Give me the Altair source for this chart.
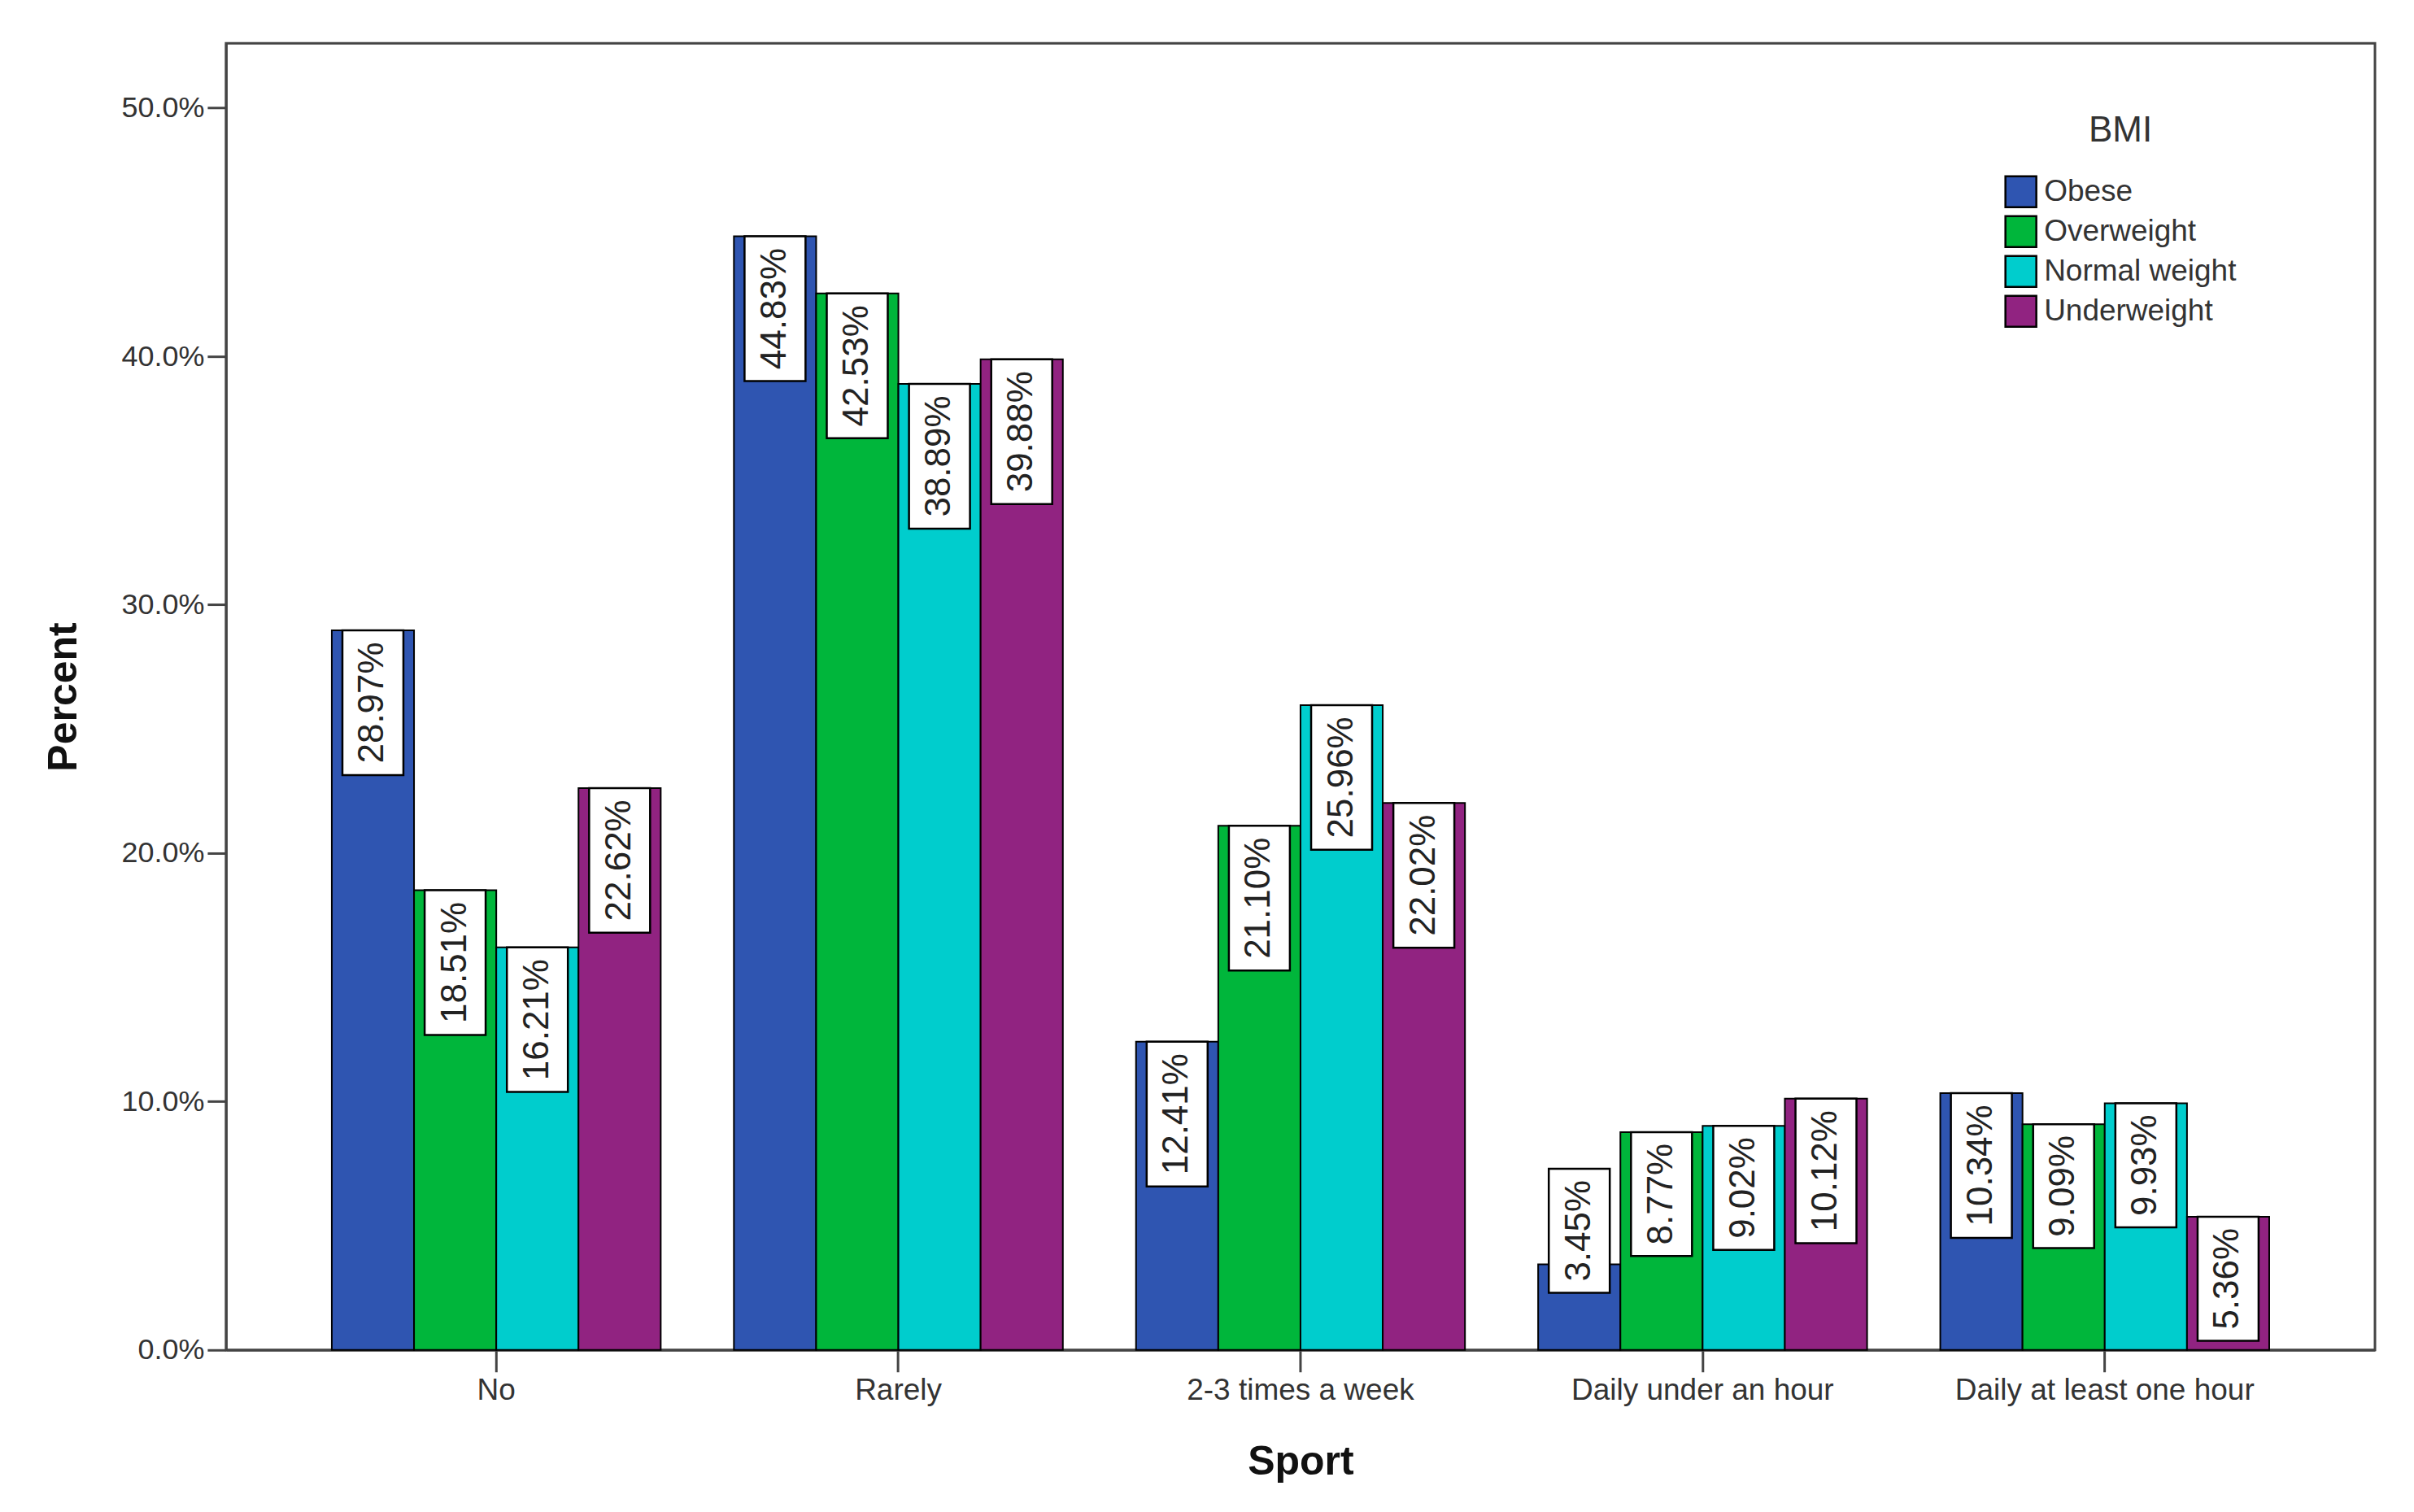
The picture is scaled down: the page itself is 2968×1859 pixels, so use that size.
import altair as alt
import pandas as pd

categories = ["No", "Rarely", "2-3 times a week", "Daily under an hour", "Daily at least one hour"]
groups = ["Obese", "Overweight", "Normal weight", "Underweight"]
obese = [28.97, 44.83, 12.41, 3.45, 10.34]
overweight = [18.51, 42.53, 21.10, 8.77, 9.09]
normal = [16.21, 38.89, 25.96, 9.02, 9.93]
underweight = [22.62, 39.88, 22.02, 10.12, 5.36]
colors = ["#2F55B1", "#00B63B", "#00CDCD", "#912381"]

W, H = 2643, 1607
YMAX = 52.6
px_per_unit = H / YMAX
FONT = "Liberation Sans"

rows = []
for g, vals in zip(groups, [obese, overweight, normal, underweight]):
    for c, v in zip(categories, vals):
        label = f"{v:.2f}%"
        box = (25.5 * len(label) + 25) / px_per_unit
        if v >= box:
            top = v
        else:
            top = v * 2 / 3 + box
        bottom = top - box
        rows.append(dict(Sport=c, BMI=g, Percent=v, label=label,
                         top=top, bottom=bottom, mid=(top + bottom) / 2))
df = pd.DataFrame(rows)

x_enc = alt.X("Sport:N", sort=categories,
              scale=alt.Scale(paddingInner=0.182, paddingOuter=0.263),
              axis=alt.Axis(title="Sport", labelAngle=0, labelFontSize=37, labelFont=FONT,
                            labelColor="#333", labelLimit=0, tickSize=27, tickWidth=3,
                            tickColor="#444", domainColor="#444", domainWidth=3,
                            labelPadding=5, titleFontSize=50, titleFont=FONT,
                            titleFontWeight="bold", titleColor="#111", titlePadding=45))
xoff = alt.XOffset("BMI:N", sort=groups, scale=alt.Scale(paddingInner=0, paddingOuter=0))

y_axis = alt.Axis(title="Percent", values=[0, 10, 20, 30, 40, 50],
                  labelExpr="format(datum.value, '.1f') + '%'",
                  grid=False, labelFontSize=36, labelFont=FONT, labelColor="#333",
                  tickSize=23, tickWidth=3, tickColor="#444", domainColor="#444",
                  domainWidth=3, labelPadding=4, titleFontSize=50, titleFont=FONT,
                  titleFontWeight="bold", titleColor="#111", titlePadding=45)

bars = alt.Chart(df).mark_bar(stroke="black", strokeWidth=2).encode(
    x=x_enc,
    xOffset=xoff,
    y=alt.Y("Percent:Q", scale=alt.Scale(domain=[0, YMAX], nice=False), axis=y_axis),
    color=alt.Color("BMI:N", sort=groups, scale=alt.Scale(domain=groups, range=colors),
                    legend=alt.Legend(title="BMI", orient="none", legendX=2187, legendY=86,
                                      titleAnchor="middle", titleFontSize=44,
                                      titleFontWeight="normal", titleFont=FONT,
                                      titleColor="#333", titlePadding=32,
                                      labelFontSize=37, labelFont=FONT, labelColor="#333",
                                      labelLimit=0,
                                      symbolType="square", symbolSize=1444,
                                      symbolStrokeColor="black", symbolStrokeWidth=2.5,
                                      rowPadding=0, labelOffset=8)),
)

boxes = alt.Chart(df).mark_bar(width=75, xOffset=6, fill="white", stroke="black",
                               strokeWidth=2.5).encode(
    x=alt.X("Sport:N", sort=categories),
    xOffset=xoff,
    y=alt.Y("top:Q"),
    y2=alt.Y2("bottom:Q"),
)

texts = alt.Chart(df).mark_text(angle=270, fontSize=44, font=FONT, color="#222",
                                xOffset=6, align="center", baseline="middle").encode(
    x=alt.X("Sport:N", sort=categories),
    xOffset=xoff,
    y=alt.Y("mid:Q"),
    text="label:N",
)

chart = alt.layer(bars, boxes, texts).properties(
    width=W, height=H,
    padding={"left": 270, "top": 45, "right": 40, "bottom": 185},
    autosize=alt.AutoSizeParams(type="none"),
).configure(background="white").configure_view(stroke="#444", strokeWidth=3)

chart.save("out.html", embed_options={"renderer": "svg", "actions": False})
